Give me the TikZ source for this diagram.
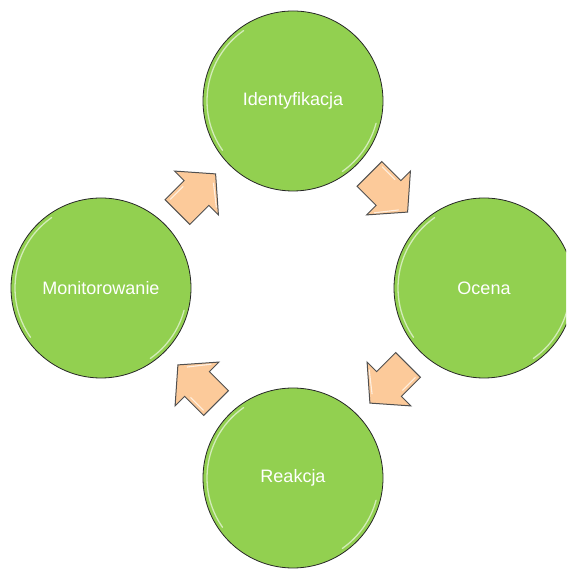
\documentclass[tikz,border=0pt]{standalone}
\usepackage{fontspec}
\setmainfont{Liberation Sans}
\definecolor{circgreen}{RGB}{146,208,80}
\definecolor{peach}{RGB}{252,202,154}
\definecolor{arrowedge}{RGB}{80,80,80}
\begin{document}
\begin{tikzpicture}[x=1pt,y=1pt,
  stage/.style={circle, draw=black!85, line width=0.8pt, fill=circgreen, minimum size=180pt, inner sep=0pt,
    text=white, font=\fontsize{18}{22}\selectfont},
  blockarrow/.style={fill=peach, draw=arrowedge, line width=1pt, line join=miter},
  gloss/.style={white, line width=1.3pt, opacity=0.6, line cap=round},
  arrowgloss/.style={white, line width=1.1pt, opacity=0.7, line cap=round}
]
\useasboundingbox (0,0) rectangle (566,569);
\clip (0,0) rectangle (566,569);
\node[stage] (ident) at (293,468) {Identyfikacja};
\node[stage] (ocena) at (484,281) {Ocena};
\node[stage] (reak) at (293,91) {Reakcja};
\node[stage] (monit) at (101,281) {Monitorowanie};
% gloss highlights on the circles
\foreach \n in {ident,ocena,reak,monit}{
  \draw[gloss] ([shift={(\n.center)}]125:86) arc[start angle=125, end angle=215, radius=86];
  \draw[gloss] ([shift={(\n.center)}]-15:86) arc[start angle=-15, end angle=-55, radius=86];
}
% block arrows between the stages
\foreach \cx/\cy/\ang in {196.5/376/45, 388.5/376/-45, 389/185/-135, 197/185/135}{
  \begin{scope}[shift={(\cx,\cy)}, rotate=\ang]
    \draw[blockarrow] (-27,-17.5) -- (0,-17.5) -- (0,-31) -- (27,0) -- (0,31) -- (0,17.5) -- (-27,17.5) -- cycle;
    \draw[arrowgloss] (-23,14) -- (-5,14);
    \draw[arrowgloss] (4,-24) -- (19,-5);
  \end{scope}
}
\end{tikzpicture}
\end{document}
